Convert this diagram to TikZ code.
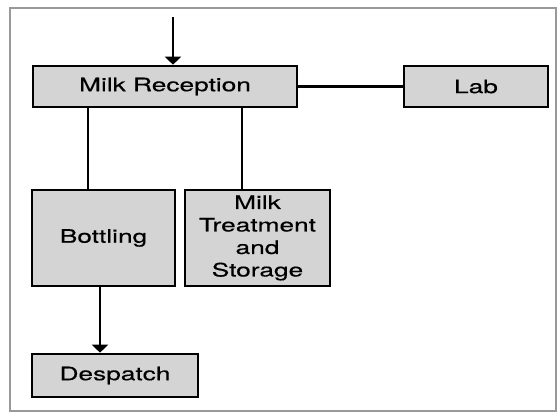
\documentclass[tikz,border=0pt]{standalone}
\usepackage{fontspec}
\setmainfont{TeX Gyre Heros}[FakeStretch=1.42, FakeBold=0.3]
\usepackage{tikz}
\usetikzlibrary{shapes,arrows.meta,positioning}

\begin{document}
\begin{tikzpicture}[x=1pt, y=-1pt, >={Triangle[width=16pt,length=8pt]}, line width=2.6pt]
			\tikzstyle{every node}=[font=\fontsize{18.5}{22.5}\selectfont]
			\tikzstyle{unit}=[draw, fill=black!17, align=center, inner sep=0pt]
			\useasboundingbox (0,0) rectangle (557,419);
			\draw[gray!80, line width=1.4pt] (10,8) rectangle (556,411);
			\node[unit, minimum width=264pt, minimum height=41pt] (RECEPTION) at (165,86.5) {Milk Reception};
			\node[unit, minimum width=144pt, minimum height=41pt] (LAB) at (476,86.5) {Lab};
			\node[unit, minimum width=143pt, minimum height=96pt] (BOTTLING) at (103.5,238) {Bottling};
			\node[unit, minimum width=145pt, minimum height=96pt] (TREATMENT) at (257.5,238) {Milk\\Treatment\\and\\Storage};
			\node[unit, minimum width=166pt, minimum height=43pt] (DESPATCH) at (115,375.5) {Despatch};
			\coordinate (IN) at (173,17);
			\draw[->] (IN) -- (IN |- RECEPTION.north);
			\draw (RECEPTION) -- (LAB);
			\draw ([xshift=-15.5pt]BOTTLING.north) -- ([xshift=-15.5pt]BOTTLING.north |- RECEPTION.south);
			\draw ([xshift=-15.5pt]TREATMENT.north) -- ([xshift=-15.5pt]TREATMENT.north |- RECEPTION.south);
			\draw[->] ([xshift=-3.5pt]BOTTLING.south) -- ([xshift=-3.5pt]BOTTLING.south |- DESPATCH.north);
\end{tikzpicture}
\end{document}
